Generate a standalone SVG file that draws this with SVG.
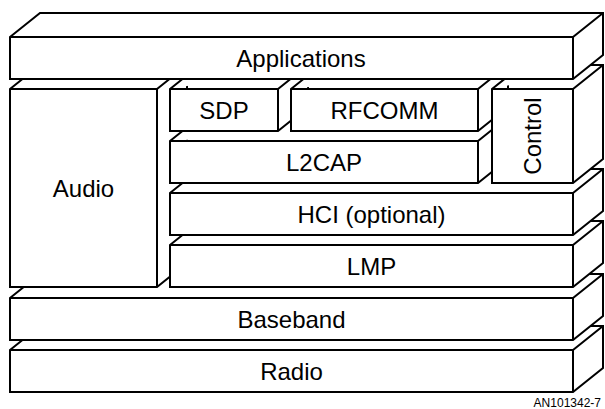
<svg xmlns="http://www.w3.org/2000/svg" width="605" height="409" viewBox="0 0 605 409">
<style>
.box{fill:#fff;stroke:#000;stroke-width:2;stroke-linejoin:miter}
.lbl{font-family:"Liberation Sans",Arial,sans-serif;font-size:24px;fill:#000;text-anchor:middle}
.cap{font-family:"Liberation Sans",Arial,sans-serif;font-size:12px;fill:#000;text-anchor:end}
</style>
<rect width="605" height="409" fill="#fff"/>
<g id="radio"><path class="box" d="M10,350 L40,326 L603,326 L603,368 L573,392 L10,392 Z M10,350 L573,350 L603,326 M573,350 L573,392"/><text class="lbl" x="291.5" y="379.5">Radio</text></g>
<g id="baseband"><path class="box" d="M10,298 L40,274 L603,274 L603,316 L573,340 L10,340 Z M10,298 L573,298 L603,274 M573,298 L573,340"/><text class="lbl" x="291.5" y="327.5">Baseband</text></g>
<g id="audio"><path class="box" d="M10,89 L40,65 L187,65 L187,263 L157,287 L10,287 Z M10,89 L157,89 L187,65 M157,89 L157,287"/><text class="lbl" x="83.5" y="196.5">Audio</text></g>
<g id="lmp"><path class="box" d="M170,245 L200,221 L603,221 L603,263 L573,287 L170,287 Z M170,245 L573,245 L603,221 M573,245 L573,287"/><text class="lbl" x="371.5" y="274.5">LMP</text></g>
<g id="hci"><path class="box" d="M170,193 L200,169 L603,169 L603,211 L573,235 L170,235 Z M170,193 L573,193 L603,169 M573,193 L573,235"/><text class="lbl" x="371.5" y="222.5">HCI (optional)</text></g>
<g id="l2cap"><path class="box" d="M170,141 L200,117 L508,117 L508,159 L478,183 L170,183 Z M170,141 L478,141 L508,117 M478,141 L478,183"/><text class="lbl" x="324" y="170.5">L2CAP</text></g>
<g id="sdp"><path class="box" d="M170,89 L200,65 L308,65 L308,107 L278,131 L170,131 Z M170,89 L278,89 L308,65 M278,89 L278,131"/><text class="lbl" x="224" y="118.5">SDP</text></g>
<g id="rfcomm"><path class="box" d="M291,89 L321,65 L508,65 L508,107 L478,131 L291,131 Z M291,89 L478,89 L508,65 M478,89 L478,131"/><text class="lbl" x="384.5" y="118.5">RFCOMM</text></g>
<g id="control"><path class="box" d="M492,89 L522,65 L603,65 L603,159 L573,183 L492,183 Z M492,89 L573,89 L603,65 M573,89 L573,183"/><text class="lbl" transform="translate(541,136) rotate(-90)" x="0" y="0">Control</text></g>
<g id="applications"><path class="box" d="M10,37 L40,13 L603,13 L603,55 L573,79 L10,79 Z M10,37 L573,37 L603,13 M573,37 L573,79"/><text class="lbl" x="301" y="66.5">Applications</text></g>
<g id="connectors"></g>
<text class="cap" x="601" y="407">AN101342-7</text>
</svg>
